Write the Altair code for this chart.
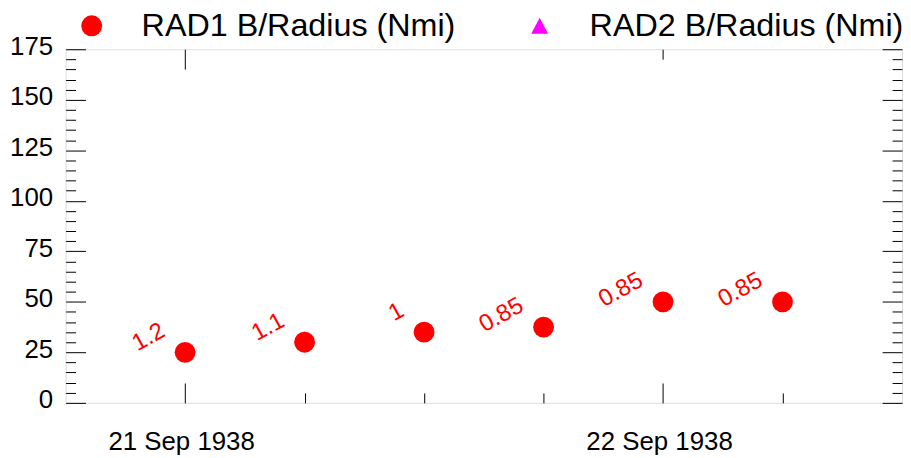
import altair as alt
import pandas as pd

# ---- data ----
times = ["1938-09-21T00:00:00Z", "1938-09-21T06:00:00Z", "1938-09-21T12:00:00Z",
         "1938-09-21T18:00:00Z", "1938-09-22T00:00:00Z", "1938-09-22T06:00:00Z"]
radius = [25, 30, 35, 37.5, 50, 50]
rad_b = ["1.2", "1.1", "1", "0.85", "0.85", "0.85"]
series_names = ["RAD1 B/Radius (Nmi)", "RAD2 B/Radius (Nmi)"]
series_colors = ["#ff0000", "#ff00ff"]

y_major = [0, 25, 50, 75, 100, 125, 150, 175]
y_minor = [v for v in range(0, 176, 5) if v % 25 != 0]
x_days = [(21, 0), (22, 0)]
x_minor = [(21, 6), (21, 12), (21, 18), (22, 6)]
x_domain = [(20, 18), (22, 12)]

FONT = "Liberation Sans"
TRI = "M0,-0.76L0.81,0.76L-0.81,0.76Z"


def dt(d, h):
    return alt.DateTime(year=1938, month=9, date=d, hours=h, utc=True)


df = pd.DataFrame({"time": times, "radius": radius, "label": rad_b,
                   "series": [series_names[0]] * len(times)})

xs = alt.Scale(type="utc", domain=[dt(*v) for v in x_domain], nice=False)
ys = alt.Scale(domain=[0, 175], nice=False, zero=False)

base = alt.Chart(df)

legend = alt.Legend(orient="none", legendX=10, legendY=-40, direction="horizontal",
                    columns=2, title=None, labelFontSize=32.5, labelFont=FONT,
                    labelColor="black", labelLimit=600, symbolSize=441,
                    labelOffset=34, columnPadding=68, padding=0,
                    symbolStrokeWidth=0, symbolOpacity=1)

points = base.mark_point(filled=True, opacity=1, size=441, strokeWidth=0).encode(
    x=alt.X("time:T", scale=xs, axis=None),
    y=alt.Y("radius:Q", scale=ys, axis=None),
    color=alt.Color("series:N", scale=alt.Scale(domain=series_names, range=series_colors), legend=legend),
    shape=alt.Shape("series:N", scale=alt.Scale(domain=series_names, range=["circle", TRI]), legend=legend),
)

labels = base.mark_text(angle=331, align="right", baseline="alphabetic", dx=-8, dy=-24,
                        fontSize=24, font=FONT, color="#ff0000").encode(
    x=alt.X("time:T", scale=xs, axis=None),
    y=alt.Y("radius:Q", scale=ys, axis=None),
    text="label:N",
)


def xaxis_layer(axis):
    return base.mark_point(opacity=0, size=1).encode(
        x=alt.X("time:T", scale=xs, axis=axis))


def yaxis_layer(axis):
    return base.mark_point(opacity=0, size=1).encode(
        y=alt.Y("radius:Q", scale=ys, axis=axis))


common = dict(title=None, domain=False, grid=False, tickColor="black", tickWidth=1)

ax_bottom_major = xaxis_layer(alt.Axis(orient="bottom", values=[dt(*v) for v in x_days],
                                       tickSize=20, offset=-20,
                                       labelExpr="utcFormat(datum.value, '%d %b %Y')",
                                       labelFontSize=26, labelFont=FONT, labelColor="black",
                                       labelPadding=26, labelOffset=-4, **common))
ax_bottom_minor = xaxis_layer(alt.Axis(orient="bottom", values=[dt(*v) for v in x_minor],
                                       tickSize=10, offset=-10, labels=False, **common))
ax_top_1 = xaxis_layer(alt.Axis(orient="top", values=[dt(*x_days[0])],
                                tickSize=20, offset=-20, labels=False, **common))
ax_top_2 = xaxis_layer(alt.Axis(orient="top", values=[dt(*x_days[1])],
                                tickSize=10, offset=-10, labels=False, **common))
ax_left_major = yaxis_layer(alt.Axis(orient="left", values=y_major, tickSize=20, offset=-20,
                                     labelFontSize=26, labelFont=FONT, labelColor="black",
                                     labelPadding=13, labelOffset=-3, **common))
ax_left_minor = yaxis_layer(alt.Axis(orient="left", values=y_minor, tickSize=10, offset=-10,
                                     labels=False, **common))
ax_right_major = yaxis_layer(alt.Axis(orient="right", values=y_major, tickSize=20, offset=-20,
                                      labels=False, **common))
ax_right_minor = yaxis_layer(alt.Axis(orient="right", values=y_minor, tickSize=10, offset=-10,
                                      labels=False, **common))

chart = alt.layer(
    ax_bottom_major, ax_bottom_minor, ax_top_1, ax_top_2,
    ax_left_major, ax_left_minor, ax_right_major, ax_right_minor,
    points, labels,
).resolve_axis(x="independent", y="independent").properties(
    width=842, height=356, autosize=alt.AutoSizeParams(type="none"),
    padding={"left": 58, "top": 40, "right": 1, "bottom": 55},
).configure_view(stroke="black", strokeWidth=1).configure(background="white")

chart.save("out.html", embed_options={"renderer": "svg", "actions": False})
